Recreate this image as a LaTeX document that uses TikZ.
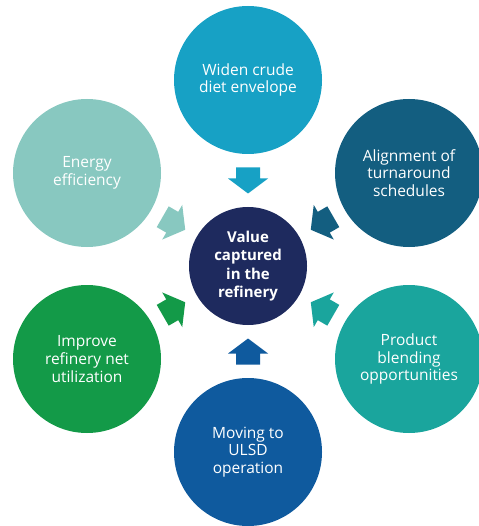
\documentclass[tikz,border=0pt]{standalone}
\usepackage{fontspec}
\setmainfont{Open Sans}
\usetikzlibrary{decorations.markings}
\definecolor{widenblue}{RGB}{23,161,197}
\definecolor{alignblue}{RGB}{19,94,128}
\definecolor{blendteal}{RGB}{26,165,157}
\definecolor{ulsdblue}{RGB}{15,90,158}
\definecolor{utilgreen}{RGB}{19,154,72}
\definecolor{energymint}{RGB}{136,200,192}
\definecolor{hubnavy}{RGB}{30,42,94}

\begin{document}
\begin{tikzpicture}
[every node/.style={inner sep=0pt},
 goal/.style={circle, minimum size=148pt, fill=#1, text=white, align=center, font=\fontsize{15.5pt}{17.8pt}\selectfont},
 hub/.style={circle, minimum size=118pt, fill=hubnavy, text=white, align=center, font=\bfseries\fontsize{15pt}{18.3pt}\selectfont},
 feed/.style={decorate, decoration={markings, mark=at position 0.5 with {\fill [#1] (-13pt,-12pt) -- (-2pt,-12pt) -- (-2pt,-20pt) -- (13pt,0pt) -- (-2pt,20pt) -- (-2pt,12pt) -- (-13pt,12pt) -- cycle;}}}]
\useasboundingbox (0pt, 0pt) rectangle (478pt, -526pt);
\node (value) [hub] at (248pt, -266pt) {Value\\captured\\in the\\refinery};
\node (widen) [goal=widenblue] at (248pt, -80pt) {Widen crude\\diet envelope};
\node (align) [goal=alignblue] at (409pt, -173pt) {Alignment of\\turnaround\\schedules};
\node (blend) [goal=blendteal] at (409pt, -359pt) {Product\\blending\\opportunities};
\node (ulsd) [goal=ulsdblue] at (248pt, -452pt) {Moving to\\ULSD\\operation};
\node (util) [goal=utilgreen] at (87pt, -359pt) {Improve\\refinery net\\utilization};
\node (energy) [goal=energymint] at (87pt, -173pt) {Energy\\efficiency};
\path [feed=widenblue] (widen) to (value);
\path [feed=alignblue] (align) to (value);
\path [feed=blendteal] (blend) to (value);
\path [feed=ulsdblue] (ulsd) to (value);
\path [feed=utilgreen] (util) to (value);
\path [feed=energymint] (energy) to (value);
\end{tikzpicture}
\end{document}
